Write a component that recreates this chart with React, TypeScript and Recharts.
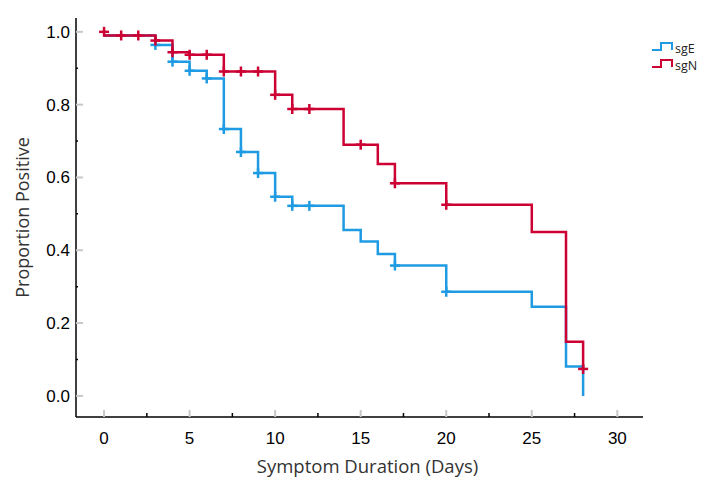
import { ComposedChart, Line, Scatter, XAxis, YAxis, Legend, Label } from 'recharts';

// Kaplan-Meier style step data
const SGE_DAYS = [0, 3, 4, 5, 6, 7, 8, 9, 10, 11, 14, 15, 16, 17, 20, 25, 27, 28];
const SGE_PROP = [0.99, 0.964, 0.918, 0.893, 0.872, 0.733, 0.67, 0.612, 0.547, 0.522, 0.456, 0.424, 0.39, 0.358, 0.286, 0.245, 0.081, 0.0];

const SGN_DAYS = [0, 3, 4, 5, 7, 10, 11, 14, 16, 17, 20, 25, 27, 28];
const SGN_PROP = [0.99, 0.976, 0.944, 0.937, 0.891, 0.827, 0.788, 0.69, 0.637, 0.584, 0.525, 0.45, 0.149, 0.074];

// censored observations (+ marks)
const SGE_CENS_DAYS = [3, 4, 5, 6, 7, 8, 9, 10, 11, 12, 17, 20];
const SGE_CENS_PROP = [0.964, 0.918, 0.893, 0.872, 0.733, 0.67, 0.612, 0.547, 0.522, 0.522, 0.358, 0.286];

const SGN_CENS_DAYS = [0, 1, 2, 3, 4, 5, 6, 7, 8, 9, 10, 11, 12, 15, 17, 20, 28];
const SGN_CENS_PROP = [1.0, 0.99, 0.99, 0.976, 0.944, 0.937, 0.937, 0.891, 0.891, 0.891, 0.827, 0.788, 0.788, 0.69, 0.584, 0.525, 0.074];

const X_TICKS = [0, 2.5, 5, 7.5, 10, 12.5, 15, 17.5, 20, 22.5, 25, 27.5, 30];
const Y_TICKS = [0, 0.1, 0.2, 0.3, 0.4, 0.5, 0.6, 0.7, 0.8, 0.9, 1.0];

const SERIES = [
  { name: 'sgE', color: '#1e9be3' },
  { name: 'sgN', color: '#cc0033' },
];

const toPoints = (days: number[], vals: number[]) => days.map((d, i) => ({ day: d, p: vals[i] }));

const sgE = toPoints(SGE_DAYS, SGE_PROP);
const sgN = toPoints(SGN_DAYS, SGN_PROP);
const sgECens = toPoints(SGE_CENS_DAYS, SGE_CENS_PROP);
const sgNCens = toPoints(SGN_CENS_DAYS, SGN_CENS_PROP);

const XTick = ({ x, y, payload }: any) => {
  const v = payload.value;
  const major = v % 5 === 0;
  return (
    <g>
      <line x1={x} x2={x} y1={y} y2={y - (major ? 7 : 4)} stroke={major ? '#c8c8c8' : '#000'} strokeWidth={major ? 2 : 1.5} />
      {major && (
        <text x={x} y={y + 27} textAnchor="middle" fontSize={17} fill="#000" fontFamily="Liberation Sans, Arial, sans-serif">
          {v}
        </text>
      )}
    </g>
  );
};

const YTick = ({ x, y, payload }: any) => {
  const v = payload.value;
  const major = Math.round(v * 10) % 2 === 0;
  return (
    <g>
      <line x1={x} x2={x + (major ? 7 : 2)} y1={y} y2={y} stroke={major ? '#c8c8c8' : '#000'} strokeWidth={major ? 2 : 1.5} />
      {major && (
        <text x={x - 6} y={y + 6} textAnchor="end" fontSize={17} fill="#000" fontFamily="Liberation Sans, Arial, sans-serif">
          {v.toFixed(1)}
        </text>
      )}
    </g>
  );
};

const crossShape = (color: string) => (props: any) => {
  const { cx, cy } = props;
  return (
    <g stroke={color} strokeWidth={2.5}>
      <line x1={cx - 5} x2={cx + 5} y1={cy} y2={cy} />
      <line x1={cx} x2={cx} y1={cy - 5} y2={cy + 5} />
    </g>
  );
};

const LegendBox = () => (
  <svg width={56} height={38}>
    {SERIES.map((s, i) => (
      <g key={s.name} transform={`translate(0, ${i * 17})`}>
        <path d="M4 12 H13 V5 H24 V12" fill="none" stroke={s.color} strokeWidth={2} />
        <text x={27} y={15} fontSize={12.5} fill="#222" fontFamily="Open Sans, sans-serif">
          {s.name}
        </text>
      </g>
    ))}
  </svg>
);

const XTitle = ({ viewBox }: any) => (
  <text x={viewBox.x + viewBox.width / 2 + 8} y={viewBox.y + 56} textAnchor="middle" fontSize={18.5} fill="#333" fontFamily="Open Sans, sans-serif">
    Symptom Duration (Days)
  </text>
);

const YTitle = ({ viewBox }: any) => {
  const cx = viewBox.x + 22;
  const cy = viewBox.y + viewBox.height / 2;
  return (
    <text x={cx} y={cy} transform={`rotate(-90 ${cx} ${cy})`} textAnchor="middle" dominantBaseline="central" fontSize={18} fill="#333" fontFamily="Open Sans, sans-serif">
      Proportion Positive
    </text>
  );
};

export default function App() {
  return (
    <div style={{ position: 'absolute', left: 0, top: 0, width: 704, height: 481, background: '#fff' }}>
      <ComposedChart width={704} height={481} margin={{ top: 18, right: 61, bottom: 0, left: 0 }}>
        <XAxis
          type="number"
          dataKey="day"
          domain={[-1.64, 31.5]}
          ticks={X_TICKS}
          interval={0}
          allowDataOverflow
          height={64}
          tickLine={false}
          tickSize={0}
          tickMargin={0}
          tick={<XTick />}
          axisLine={{ stroke: '#000', strokeWidth: 1.5 }}
        >
          <Label content={<XTitle />} />
        </XAxis>
        <YAxis
          type="number"
          dataKey="p"
          domain={[-0.058, 1.038]}
          ticks={Y_TICKS}
          interval={0}
          allowDataOverflow
          width={76}
          tickLine={false}
          tickSize={0}
          tickMargin={0}
          tick={<YTick />}
          axisLine={{ stroke: '#000', strokeWidth: 1.5 }}
        >
          <Label content={<YTitle />} />
        </YAxis>
        <Legend
          layout="vertical"
          align="center"
          verticalAlign="middle"
          content={<LegendBox />}
          wrapperStyle={{ position: 'absolute', left: 648, top: 38, width: 56 }}
        />
        <Line data={sgE} dataKey="p" name="sgE" type="stepAfter" stroke={SERIES[0].color} strokeWidth={2.5} dot={false} activeDot={false} isAnimationActive={false} />
        <Line data={sgN} dataKey="p" name="sgN" type="stepAfter" stroke={SERIES[1].color} strokeWidth={2.5} dot={false} activeDot={false} isAnimationActive={false} />
        <Scatter data={sgECens} dataKey="p" legendType="none" shape={crossShape(SERIES[0].color)} isAnimationActive={false} />
        <Scatter data={sgNCens} dataKey="p" legendType="none" shape={crossShape(SERIES[1].color)} isAnimationActive={false} />
      </ComposedChart>
    </div>
  );
}
